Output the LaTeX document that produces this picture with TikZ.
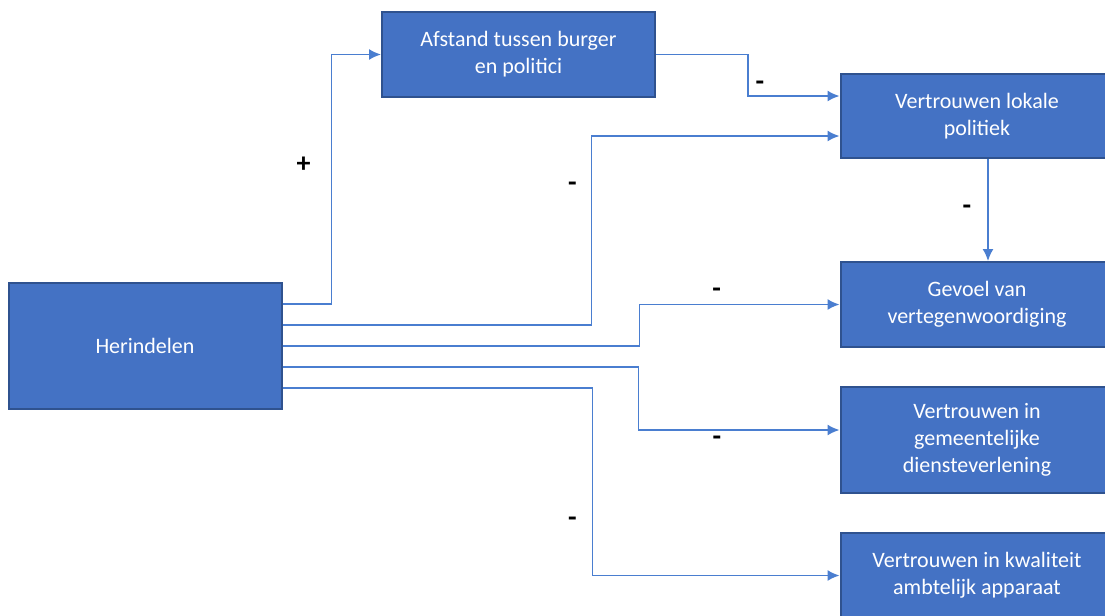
\documentclass[tikz,border=0pt]{standalone}
\usepackage{fontspec}
\setmainfont{Carlito}
\usepackage{tikz}
\usetikzlibrary{arrows, arrows.meta, positioning}
\definecolor{boxblue}{HTML}{4472C4}
\definecolor{boxedge}{HTML}{2F528F}
\definecolor{lineblue}{HTML}{4A7ED0}

\begin{document}
\begin{tikzpicture}[->,>={Latex[length=6pt,width=5.5pt]},x=0.5pt,y=-0.5pt,font=\fontsize{11}{13.5}\selectfont]
				\tikzstyle{factor} = [draw=boxedge, line width=1pt, fill=boxblue, text=white, align=center, minimum width=136.5pt, inner sep=0pt]
				\tikzstyle{link} = [draw=lineblue, line width=0.8pt]
				\tikzstyle{sign} = [text=black, font=\fontsize{14}{14}\selectfont\bfseries, inner sep=0pt]

				\clip (0,0) rectangle (1105,616);
				\useasboundingbox (0,0) rectangle (1105,616);

				\node[factor, minimum height=63pt] (herindelen) at (145,346) {Herindelen};
				\node[factor, minimum height=42.5pt] (afstand) at (518.5,54.5) {Afstand tussen burger\\en politici};
				\node[factor, minimum height=42pt] (lokale) at (977,116) {Vertrouwen lokale\\politiek};
				\node[factor, minimum height=42.5pt] (gevoel) [below=51pt of lokale] {Gevoel van\\vertegenwoordiging};
				\node[factor, minimum height=53pt] (dienst) [below=19pt of gevoel] {Vertrouwen in\\gemeentelijke\\diensteverlening};
				\node[factor, minimum height=42.5pt] (kwaliteit) [below=19pt of dienst] {Vertrouwen in kwaliteit\\ambtelijk apparaat};

				\path[link] ([yshift=21pt]herindelen.east) -- ++(49,0) |- node[sign, pos=0.28, xshift=-14pt] {+} (afstand.west);
				\path[link] ([yshift=10.5pt]herindelen.east) -- ++(309,0) |- node[sign, pos=0.366, xshift=-9.5pt] {-} ([yshift=-10pt]lokale.west);
				\path[link] (afstand.east) -- ++(92,0) |- node[sign, pos=0.375, xshift=6pt] {-} ([yshift=10pt]lokale.west);
				\path[link] (herindelen.east) -- ++(357,0) |- node[sign, pos=0.693, yshift=6pt] {-} (gevoel.west);
				\path[link] ([yshift=-10.5pt]herindelen.east) -- ++(356,0) |- node[sign, pos=0.695, yshift=-5.5pt] {-} ([yshift=5pt]dienst.west);
				\path[link] ([yshift=-21pt]herindelen.east) -- ++(310,0) |- node[sign, pos=0.357, xshift=-10pt] {-} (kwaliteit.west);
				\path[link] ([xshift=5.5pt]lokale.south) -- node[sign, xshift=-10.5pt] {-} ([xshift=5.5pt]gevoel.north);
			\end{tikzpicture}
\end{document}
